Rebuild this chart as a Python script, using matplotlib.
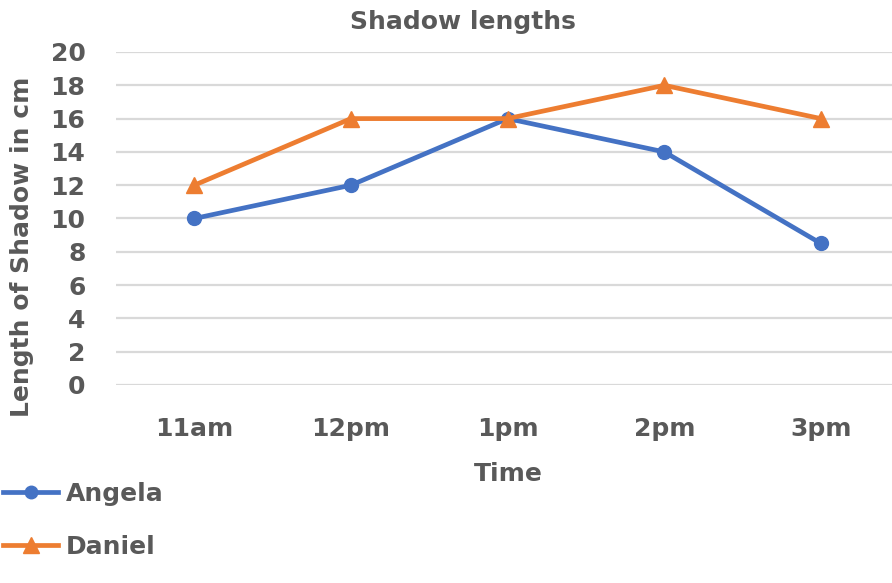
import matplotlib
matplotlib.use("Agg")
import matplotlib.pyplot as plt
from matplotlib.lines import Line2D

times = ["11am", "12pm", "1pm", "2pm", "3pm"]
angela = [10, 12, 16, 14, 8.5]
daniel = [12, 16, 16, 18, 16]
y_ticks = [0, 2, 4, 6, 8, 10, 12, 14, 16, 18, 20]

W, H = 892, 583
fig = plt.figure(figsize=(W / 100, H / 100), dpi=100)
ax = fig.add_axes([116 / W, 1 - 385 / H, 1 - 116 / W, (385 - 52) / H])

text_color = "#595959"
font = ["DejaVu Sans"]
blue = "#4472C4"
orange = "#ED7D31"
fs = 18

x = list(range(len(times)))
ax.plot(x, angela, color=blue, lw=3.4, marker="o", ms=10, zorder=3,
        solid_capstyle="round")
ax.plot(x, daniel, color=orange, lw=3.4, marker="^", ms=12, zorder=3,
        solid_capstyle="round")

ax.set_xlim(-0.5, (892 - 195) / 156.5)
ax.set_ylim(0, 20)
ax.set_yticks(y_ticks)
ax.set_xticks(x)
ax.set_xticklabels(times)
for s in ax.spines.values():
    s.set_visible(False)
ax.grid(axis="y", color="#D9D9D9", lw=1.6)
ax.set_axisbelow(True)
ax.tick_params(length=0, labelsize=fs, labelcolor=text_color)
ax.tick_params(axis="x", pad=23)
ax.tick_params(axis="y", pad=22)
for lab in ax.get_xticklabels() + ax.get_yticklabels():
    lab.set_fontfamily(font)
    lab.set_fontweight("bold")

fig.text(463 / W, 1 - 22 / H, "Shadow lengths", ha="center", va="center",
         fontsize=fs, fontweight="bold", color=text_color, family=font)
fig.text(22 / W, 1 - 247 / H, "Length of Shadow in cm", ha="center", va="center",
         rotation=90, fontsize=fs, fontweight="bold", color=text_color, family=font)
fig.text(508 / W, 1 - 474 / H, "Time", ha="center", va="center",
         fontsize=fs, fontweight="bold", color=text_color, family=font)

handles = [
    Line2D([], [], color=blue, lw=3.4, marker="o", ms=9),
    Line2D([], [], color=orange, lw=3.4, marker="^", ms=11),
]
fig.legend(handles, ["Angela", "Daniel"], loc="upper left",
           bbox_to_anchor=(3 / W, 1 - 482 / H), frameon=False,
           borderpad=0, borderaxespad=0,
           handlelength=2.2, handletextpad=0.3, labelspacing=1.15,
           prop={"family": font, "weight": "bold", "size": fs},
           labelcolor=text_color)

fig.savefig("out.png", dpi=100)
